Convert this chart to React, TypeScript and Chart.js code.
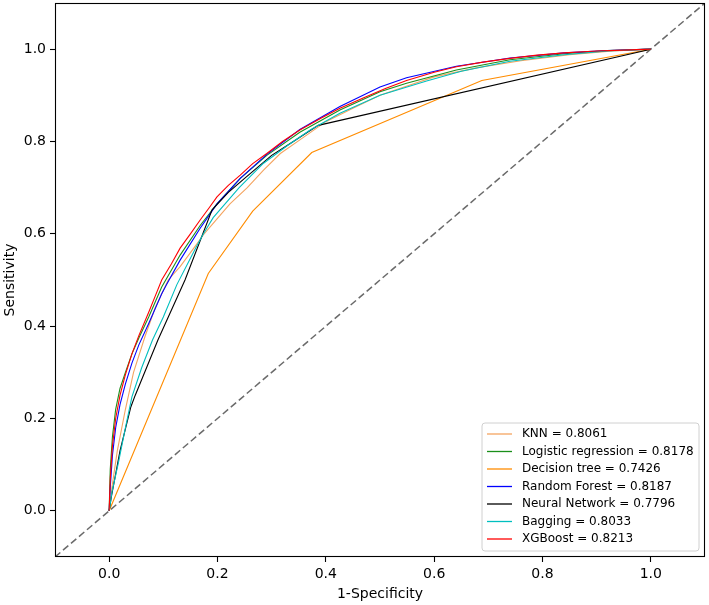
import React, { useEffect, useRef } from "react";
import { Chart, registerables } from "chart.js";
Chart.register(...registerables);

// ---- data ----
const modelNames = ["KNN", "Logistic regression", "Decision tree", "Random Forest", "Neural Network", "Bagging", "XGBoost"];
const aucValues = [0.8061, 0.8178, 0.7426, 0.8187, 0.7796, 0.8033, 0.8213];
const modelColors = ["#f4a460", "#1a8f1a", "#ff8c00", "#0000ff", "#000000", "#00bfbf", "#ff0000"];

const xTickValues = [0, 0.2, 0.4, 0.6, 0.8, 1.0];
const yTickValues = [0, 0.2, 0.4, 0.6, 0.8, 1.0];

const knnFpr = [0, 0.005, 0.015, 0.03, 0.045, 0.066, 0.085, 0.109, 0.131, 0.16, 0.174, 0.19, 0.223, 0.255, 0.285, 0.316, 0.36, 0.4, 0.45, 0.5, 0.55, 0.6, 0.68, 0.76, 0.85, 0.93, 1];
const knnTpr = [0, 0.05, 0.13, 0.22, 0.3, 0.377, 0.44, 0.5, 0.529, 0.575, 0.598, 0.62, 0.665, 0.7, 0.738, 0.774, 0.81, 0.843, 0.872, 0.9, 0.92, 0.94, 0.96, 0.975, 0.988, 0.996, 1];

const lrFpr = [0, 0.002, 0.006, 0.012, 0.02, 0.03, 0.042, 0.055, 0.073, 0.097, 0.131, 0.168, 0.199, 0.242, 0.291, 0.352, 0.426, 0.5, 0.549, 0.641, 0.74, 0.84, 0.92, 1];
const lrTpr = [0, 0.09, 0.16, 0.22, 0.265, 0.3, 0.34, 0.375, 0.42, 0.485, 0.554, 0.618, 0.665, 0.72, 0.77, 0.82, 0.868, 0.908, 0.926, 0.955, 0.977, 0.99, 0.997, 1];

const dtFpr = [0, 0.183, 0.265, 0.374, 0.688, 1];
const dtTpr = [0, 0.514, 0.649, 0.776, 0.932, 1];

const rfFpr = [0, 0.002, 0.006, 0.012, 0.02, 0.03, 0.042, 0.055, 0.073, 0.097, 0.106, 0.131, 0.168, 0.199, 0.242, 0.291, 0.352, 0.426, 0.5, 0.549, 0.641, 0.74, 0.84, 0.92, 1];
const rfTpr = [0, 0.05, 0.12, 0.18, 0.23, 0.275, 0.32, 0.36, 0.406, 0.47, 0.49, 0.543, 0.612, 0.665, 0.72, 0.772, 0.826, 0.876, 0.918, 0.938, 0.963, 0.981, 0.992, 0.997, 1];

const nnFpr = [0, 0.004, 0.02, 0.04, 0.048, 0.09, 0.14, 0.19, 0.22, 0.25, 0.3, 0.34, 0.386, 1];
const nnTpr = [0, 0.03, 0.13, 0.225, 0.25, 0.37, 0.5, 0.652, 0.69, 0.72, 0.77, 0.8, 0.835, 1];

const bagFpr = [0, 0.005, 0.017, 0.03, 0.042, 0.06, 0.08, 0.1, 0.125, 0.16, 0.174, 0.192, 0.24, 0.285, 0.33, 0.371, 0.426, 0.5, 0.586, 0.65, 0.74, 0.84, 0.92, 1];
const bagTpr = [0, 0.04, 0.104, 0.18, 0.247, 0.31, 0.37, 0.42, 0.49, 0.57, 0.6, 0.635, 0.7, 0.753, 0.792, 0.825, 0.861, 0.9, 0.931, 0.952, 0.974, 0.988, 0.996, 1];

const xgbFpr = [0, 0.002, 0.006, 0.012, 0.02, 0.03, 0.042, 0.055, 0.073, 0.085, 0.097, 0.115, 0.131, 0.15, 0.168, 0.185, 0.199, 0.22, 0.242, 0.265, 0.291, 0.32, 0.352, 0.39, 0.426, 0.47, 0.51, 0.549, 0.6, 0.641, 0.69, 0.74, 0.79, 0.84, 0.9, 0.95, 1];
const xgbTpr = [0, 0.07, 0.14, 0.2, 0.25, 0.295, 0.34, 0.38, 0.43, 0.465, 0.5, 0.535, 0.569, 0.6, 0.63, 0.657, 0.68, 0.705, 0.727, 0.752, 0.774, 0.8, 0.825, 0.85, 0.872, 0.895, 0.915, 0.932, 0.95, 0.962, 0.972, 0.98, 0.987, 0.992, 0.996, 0.998, 1];

const diagX = [-0.1, 1.1];
const diagY = [-0.1, 1.1];

const fprs = [knnFpr, lrFpr, dtFpr, rfFpr, nnFpr, bagFpr, xgbFpr];
const tprs = [knnTpr, lrTpr, dtTpr, rfTpr, nnTpr, bagTpr, xgbTpr];

const FONT = "'DejaVu Sans', sans-serif";

const framePlugin = {
  id: "frameAndLegend",
  afterDatasetsDraw(chart: any) {
    const { ctx, chartArea } = chart;
    const { left, top, right, bottom } = chartArea;
    ctx.save();
    // frame
    ctx.strokeStyle = "#000";
    ctx.lineWidth = 1.1;
    ctx.strokeRect(Math.round(left) + 0.5, Math.round(top) + 0.5, Math.round(right - left) - 1, Math.round(bottom - top) - 1);

    // legend
    const items = chart.data.datasets.filter((d: any) => d.legendText);
    const rowH = 17.5;
    const boxW = 217;
    const boxH = 128;
    const bx = right - 6 - boxW;
    const by = bottom - 6 - boxH;
    const r = 3;
    ctx.beginPath();
    ctx.moveTo(bx + r, by);
    ctx.lineTo(bx + boxW - r, by);
    ctx.quadraticCurveTo(bx + boxW, by, bx + boxW, by + r);
    ctx.lineTo(bx + boxW, by + boxH - r);
    ctx.quadraticCurveTo(bx + boxW, by + boxH, bx + boxW - r, by + boxH);
    ctx.lineTo(bx + r, by + boxH);
    ctx.quadraticCurveTo(bx, by + boxH, bx, by + boxH - r);
    ctx.lineTo(bx, by + r);
    ctx.quadraticCurveTo(bx, by, bx + r, by);
    ctx.closePath();
    ctx.fillStyle = "rgba(255,255,255,0.85)";
    ctx.fill();
    ctx.strokeStyle = "#d0d0d0";
    ctx.lineWidth = 1;
    ctx.stroke();

    ctx.font = `12px ${FONT}`;
    ctx.textBaseline = "middle";
    ctx.textAlign = "left";
    items.forEach((d: any, i: number) => {
      const y = by + 11 + i * rowH;
      ctx.strokeStyle = d.borderColor;
      ctx.lineWidth = 1.3;
      ctx.beginPath();
      ctx.moveTo(bx + 5, y);
      ctx.lineTo(bx + 30, y);
      ctx.stroke();
      ctx.fillStyle = "#000";
      ctx.fillText(d.legendText, bx + 40, y);
    });
    ctx.restore();
  },
};

export default function App() {
  const ref = useRef<HTMLCanvasElement>(null);
  useEffect(() => {
    const canvas = ref.current!;
    Chart.defaults.font.family = FONT;
    Chart.defaults.color = "#000";

    const datasets: any[] = modelNames.map((name, i) => ({
      label: name,
      legendText: `${name} = ${aucValues[i].toFixed(4)}`,
      data: fprs[i].map((x, j) => ({ x, y: tprs[i][j] })),
      borderColor: modelColors[i],
      backgroundColor: modelColors[i],
      borderWidth: 1.1,
      pointRadius: 0,
      tension: 0,
      fill: false,
      order: modelNames.length - i,
    }));
    datasets.push({
      label: "diag",
      data: diagX.map((x, j) => ({ x, y: diagY[j] })),
      borderColor: "#6a6a6a",
      borderWidth: 1.5,
      borderDash: [7, 3.5],
      pointRadius: 0,
      fill: false,
      order: 100,
    });

    const tickCfg = (vals: number[]) => ({
      afterBuildTicks: (scale: any) => {
        scale.ticks = vals.map((v) => ({ value: v }));
      },
    });

    const chart = new Chart(canvas, {
      type: "line",
      data: { datasets },
      plugins: [framePlugin],
      options: {
        animation: false,
        responsive: false,
        devicePixelRatio: 1,
        layout: { padding: { top: 3, right: 4, left: 0, bottom: 0 } },
        plugins: { legend: { display: false }, tooltip: { enabled: false } },
        scales: {
          x: {
            type: "linear",
            min: -0.1,
            max: 1.1,
            ...tickCfg(xTickValues),
            afterFit: (s: any) => { s.height = 48; s.paddingLeft = 0; s.paddingRight = 0; s.paddingTop = 0; s.paddingBottom = 0; },
            grid: { drawOnChartArea: false, drawTicks: true, tickLength: 5, color: "#000", tickColor: "#000", tickWidth: 1.1 },
            border: { display: false },
            ticks: { autoSkip: false, maxRotation: 0, padding: 4, font: { size: 14 }, color: "#000", callback: (v: any) => Number(v).toFixed(1) },
            title: { display: true, text: "1-Specificity", font: { size: 14 }, color: "#000", padding: { top: 0, bottom: 2 } },
          },
          y: {
            type: "linear",
            min: -0.1,
            max: 1.1,
            ...tickCfg(yTickValues),
            afterFit: (s: any) => { s.width = 55; s.paddingTop = 0; s.paddingBottom = 0; s.paddingLeft = 0; s.paddingRight = 0; },
            grid: { drawOnChartArea: false, drawTicks: true, tickLength: 5, color: "#000", tickColor: "#000", tickWidth: 1.1 },
            border: { display: false },
            ticks: { autoSkip: false, padding: 4, font: { size: 14 }, color: "#000", callback: (v: any) => Number(v).toFixed(1) },
            title: { display: true, text: "Sensitivity", font: { size: 14 }, color: "#000", padding: { top: 2, bottom: 0 } },
          },
        },
      } as any,
    });
    return () => chart.destroy();
  }, []);
  return (
    <div style={{ position: "absolute", left: 0, top: 0, width: 709, height: 605 }}>
      <canvas ref={ref} width={709} height={605} style={{ display: "block", width: 709, height: 605 }} />
    </div>
  );
}
